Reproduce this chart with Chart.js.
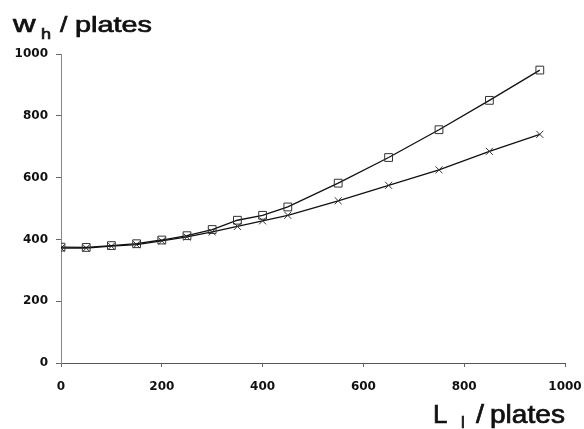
<!DOCTYPE html>
<html>
<head>
<meta charset="utf-8">
<script src="https://cdn.jsdelivr.net/npm/chart.js@4/dist/chart.umd.min.js"></script>
<style>
  html, body { margin: 0; padding: 0; background: #fff; }
  #wrap { width: 584px; height: 429px; position: relative; }
</style>
</head>
<body>
<div id="wrap"><canvas id="chart" width="584" height="429"></canvas></div>
<script>
// data
const lengthL = [0, 50, 100, 150, 200, 250, 300, 350, 400, 450, 550, 650, 750, 850, 950];
const widthSquares = [375, 374, 380, 386, 398, 412, 432, 462, 478, 505, 582, 665, 755, 850, 948];
const widthCrosses = [372, 372, 378, 383, 395, 408, 424, 442, 460, 478, 525, 575, 625, 685, 740];
const xTicks = [0, 200, 400, 600, 800, 1000];
const yTicks = [0, 200, 400, 600, 800, 1000];

const toPoints = (xs, ys) => xs.map((x, i) => ({ x: x, y: ys[i] }));

const FONT = '"Liberation Sans", Arial, sans-serif';

// text piece, stretched horizontally and slightly thickened like the scanned lettering
function piece(ctx, text, x, y, size, stretch) {
  ctx.save();
  ctx.translate(x, y);
  ctx.scale(stretch, 1);
  ctx.font = size + 'px ' + FONT;
  ctx.fillText(text, 0, 0);
  ctx.lineWidth = 0.7;
  ctx.strokeText(text, 0, 0);
  ctx.restore();
}

const axisTitles = {
  id: 'axisTitles',
  afterDraw(chart) {
    const ctx = chart.ctx;
    ctx.save();
    ctx.fillStyle = '#111';
    ctx.strokeStyle = '#111';
    ctx.textBaseline = 'alphabetic';
    ctx.textAlign = 'left';
    // y title: w_h /plates
    piece(ctx, 'w', 13, 32, 24, 1.3);
    piece(ctx, 'h', 41, 39, 15, 1.2);
    piece(ctx, '/', 60, 32, 22, 1.2);
    piece(ctx, 'plates', 75, 32, 22, 1.31);
    // x title: L_l /plates
    piece(ctx, 'L', 433, 423, 26, 1.0);
    piece(ctx, 'l', 461, 428, 17, 1.0);
    piece(ctx, '/', 476, 423, 26, 1.1);
    piece(ctx, 'plates', 490, 423, 26, 1.08);
    ctx.restore();
  }
};

const tickFont = { family: '"DejaVu Sans", sans-serif', size: 12, weight: 'bold' };

new Chart(document.getElementById('chart'), {
  type: 'scatter',
  data: {
    datasets: [{
      label: 'squares',
      data: toPoints(lengthL, widthSquares),
      showLine: true,
      borderColor: '#111',
      borderWidth: 1.3,
      pointStyle: 'rect',
      pointRadius: 5.5,
      pointBorderColor: '#333',
      pointBorderWidth: 1,
      pointBackgroundColor: 'rgba(0,0,0,0)'
    }, {
      label: 'crosses',
      data: toPoints(lengthL, widthCrosses),
      showLine: true,
      borderColor: '#111',
      borderWidth: 1.3,
      pointStyle: 'crossRot',
      pointRadius: 5,
      pointBorderColor: '#333',
      pointBorderWidth: 1
    }]
  },
  options: {
    responsive: false,
    animation: false,
    layout: { padding: { top: 54, right: 19, bottom: 0, left: 0 } },
    plugins: {
      legend: { display: false },
      tooltip: { enabled: false }
    },
    scales: {
      x: {
        type: 'linear',
        min: 0, max: 1000,
        afterBuildTicks: s => { s.ticks = xTicks.map(v => ({ value: v })); },
        afterFit: s => { s.height = 66; s.paddingLeft = 0; s.paddingRight = 0; },
        border: { display: true, color: '#555', width: 1, dash: [10, 3] },
        grid: { display: true, drawOnChartArea: false, drawTicks: true, tickLength: 4, color: '#666' },
        ticks: { color: '#111', font: tickFont, padding: 13, callback: v => String(v) }
      },
      y: {
        type: 'linear',
        min: 0, max: 1000,
        afterBuildTicks: s => { s.ticks = yTicks.map(v => ({ value: v })); },
        afterFit: s => { s.width = 61; s.paddingTop = 0; s.paddingBottom = 0; },
        border: { display: true, color: '#888', width: 1, dash: [6, 3] },
        grid: { display: true, drawOnChartArea: false, drawTicks: true, tickLength: 5, color: '#666' },
        ticks: { color: '#111', font: tickFont, padding: 8, callback: v => String(v) }
      }
    }
  },
  plugins: [axisTitles]
});
</script>
</body>
</html>
